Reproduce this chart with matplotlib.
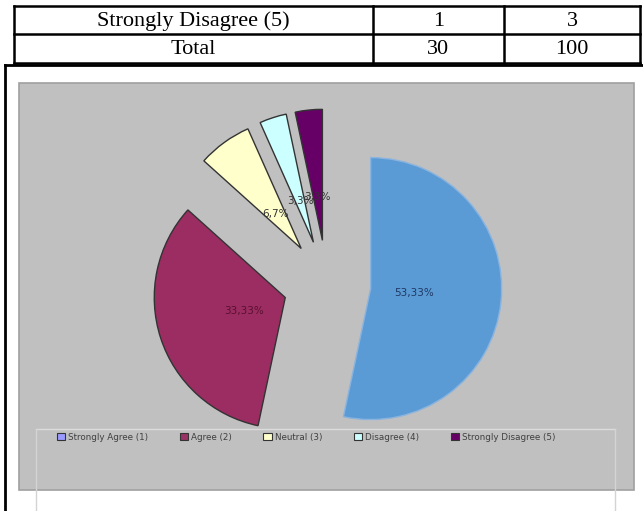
import matplotlib.pyplot as plt
from matplotlib.patches import Rectangle, Patch

# table rows shown above the chart
table_rows = [["Strongly Disagree (5)", "1", "3"],
              ["Total", "30", "100"]]

# pie data
categories = ["Strongly Agree (1)", "Agree (2)", "Neutral (3)", "Disagree (4)", "Strongly Disagree (5)"]
counts = [16, 10, 2, 1, 1]
pct_labels = ["53,33%", "33,33%", "6,7%", "3,3%", "3,3%"]

slice_colors = ["#5b9bd5", "#9b2d62", "#ffffcc", "#ccffff", "#660066"]
legend_colors = ["#9999ff", "#993366", "#ffffcc", "#ccffff", "#660066"]
label_colors = ["#1f3864", "#5a1030", "#333333", "#333333", "#333333"]

W, H = 643, 511
fig = plt.figure(figsize=(W / 100, H / 100), dpi=100)

# background axes in pixel coordinates (y down)
bg = fig.add_axes([0, 0, 1, 1])
bg.set_xlim(0, W)
bg.set_ylim(H, 0)
bg.axis("off")

# table grid
col_x = [14, 373, 504, 640]
row_y = [6, 34, 63]
for y in row_y:
    bg.plot([col_x[0], col_x[-1]], [y, y], color="black", lw=1.8, solid_capstyle="projecting")
for x in col_x:
    bg.plot([x, x], [row_y[0], row_y[-1]], color="black", lw=1.8, solid_capstyle="projecting")
for i, row in enumerate(table_rows):
    yc = (row_y[i] + row_y[i + 1]) / 2
    for j, txt in enumerate(row):
        xc = (col_x[j] + col_x[j + 1]) / 2
        bg.text(xc, yc + 1, txt, ha="center", va="center",
                family="Liberation Serif", fontsize=16, color="black")

# outer frame around the chart
bg.plot([5, 5], [65, H + 5], color="black", lw=2)
bg.plot([5, W + 5], [65, 65], color="black", lw=2)

# gray chart area and legend box
bg.add_patch(Rectangle((19, 83), 615, 407, facecolor="#c0c0c0", edgecolor="#a0a0a0", lw=1.2))
bg.plot([36, 615], [429, 429], color="#dcdcdc", lw=1)
bg.plot([36, 36], [429, H], color="#d4d4d4", lw=1)
bg.plot([615, 615], [429, H], color="#d4d4d4", lw=1)

# pie axes: 1 data unit = 131 px, centre at (327, 284) px
cx, cy, r = 327, 284, 131
pie_ax = fig.add_axes([0, 0, 1, 1])
pie_ax.patch.set_alpha(0)
it = iter(pct_labels)
wedges, texts, autotexts = pie_ax.pie(
    counts, colors=slice_colors, startangle=90, counterclock=False,
    explode=[0.335] * len(counts), autopct=lambda p: next(it), pctdistance=0.33,
    wedgeprops=dict(edgecolor="#333333", linewidth=1),
    textprops=dict(fontsize=7.5))
wedges[0].set_edgecolor("#8ab4df")
for t, c in zip(autotexts, label_colors):
    t.set_color(c)
pie_ax.set_xlim(-cx / r, (W - cx) / r)
pie_ax.set_ylim(-(H - cy) / r, cy / r)
pie_ax.axis("off")

handles = [Patch(facecolor=c, edgecolor="#333333", lw=0.8) for c in legend_colors]
fig.legend(handles, categories, loc="center", ncol=5, frameon=False,
           bbox_to_anchor=(306 / W, 1 - 437 / H), fontsize=6.3,
           handlelength=1.0, handleheight=1.0, handletextpad=0.3,
           columnspacing=3.6, labelcolor="#404040")

plt.savefig("out.png", dpi=100)
